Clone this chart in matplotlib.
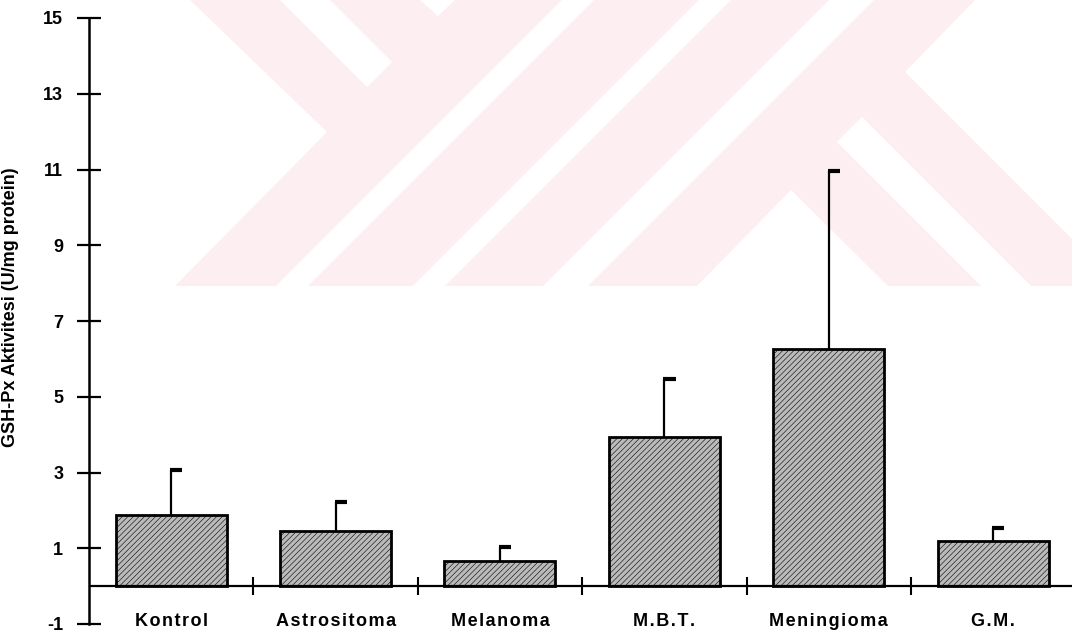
import numpy as np
import matplotlib
matplotlib.use('Agg')
import matplotlib.pyplot as plt
from matplotlib.patches import Polygon
from matplotlib.transforms import Affine2D

plt.rcParams['font.family'] = ['Liberation Sans', 'DejaVu Sans']
plt.rcParams['font.weight'] = 'bold'
plt.rcParams['axes.unicode_minus'] = False

# data (means and upper error = SD)
categories = ['Kontrol', 'Astrositoma', 'Melanoma', 'M.B.T.', 'Meningioma', 'G.M.']
means = [1.89, 1.45, 0.66, 3.95, 6.26, 1.18]
sds = [1.18, 0.76, 0.37, 1.52, 4.70, 0.35]
yticks = [-1, 1, 3, 5, 7, 9, 11, 13, 15]
ylabel = 'GSH-Px Aktivitesi (U/mg protein)'

W, H = 1072, 635
fig = plt.figure(figsize=(W / 100, H / 100), dpi=100)

# pink watermark in the background (pixel coords, y from top)
px = Affine2D().scale(1.0 / W, -1.0 / H).translate(0, 1) + fig.transFigure
pink = '#fdeef1'
envelope = [(190, 0), (975, 0), (905, 72), (1072, 239), (1072, 286), (175, 286), (327, 132)]
fig.add_artist(Polygon(envelope, closed=True, fc=pink, ec='none', transform=px, zorder=-2))
cuts = [
    [(420, 0), (455, 0), (438, 16)],
    [(280, 0), (330, 0), (392, 62), (367, 87)],
    [(791, 190), (888, 286), (697, 286)],
    [(862, 117), (1031, 286), (981, 286), (837, 142)],
]
for a, b in [(276, 308), (413, 445), (543, 588)]:
    cuts.append([(a, 286), (b, 286), (b + 286, 0), (a + 286, 0)])
for c in cuts:
    fig.add_artist(Polygon(c, closed=True, fc='white', ec='none', transform=px, zorder=-1))

ax = fig.add_axes([89 / W, 11 / H, 1 - 89 / W, 606 / H])
ax.patch.set_visible(False)

x = np.arange(len(categories))
plt.rcParams['hatch.linewidth'] = 0.4
plt.rcParams['hatch.color'] = '#9e9e9e'
ax.bar(x, means, width=0.675, color='#bababa', edgecolor='black', linewidth=2,
       hatch='//////', zorder=3)

# one-sided error bars with a flag-like cap
tops = np.array(means) + np.array(sds)
ax.vlines(x, means, tops, colors='black', linewidth=1.6, zorder=2)
ax.hlines(tops, x - 0.006, x + 0.068, colors='black', linewidth=3, zorder=2)

# x axis at zero with separators between groups
ax.axhline(0, color='black', linewidth=1.6, zorder=4)
seps = x[:-1] + 0.5
ax.vlines(seps, -0.24, 0.24, colors='black', linewidth=1.5, zorder=4)

for xi, name in zip(x, categories):
    ax.text(xi, -0.93, '\u200a'.join(name), ha='center', va='center',
            fontsize=13, fontweight='bold')

ax.set_xlim(-0.5, 5.48)
ax.set_ylim(-1, 15)
ax.set_yticks(yticks)
ax.set_xticks([])
for s in ['top', 'right', 'bottom']:
    ax.spines[s].set_visible(False)
ax.spines['left'].set_linewidth(1.8)
ax.tick_params(axis='y', direction='inout', length=17, width=1.6, labelsize=13, pad=10)

fig.text(11 / W, 1 - 307 / H, ylabel, rotation=90, ha='center', va='center',
         fontsize=13, fontweight='bold')

fig.savefig('out.png', dpi=100)
